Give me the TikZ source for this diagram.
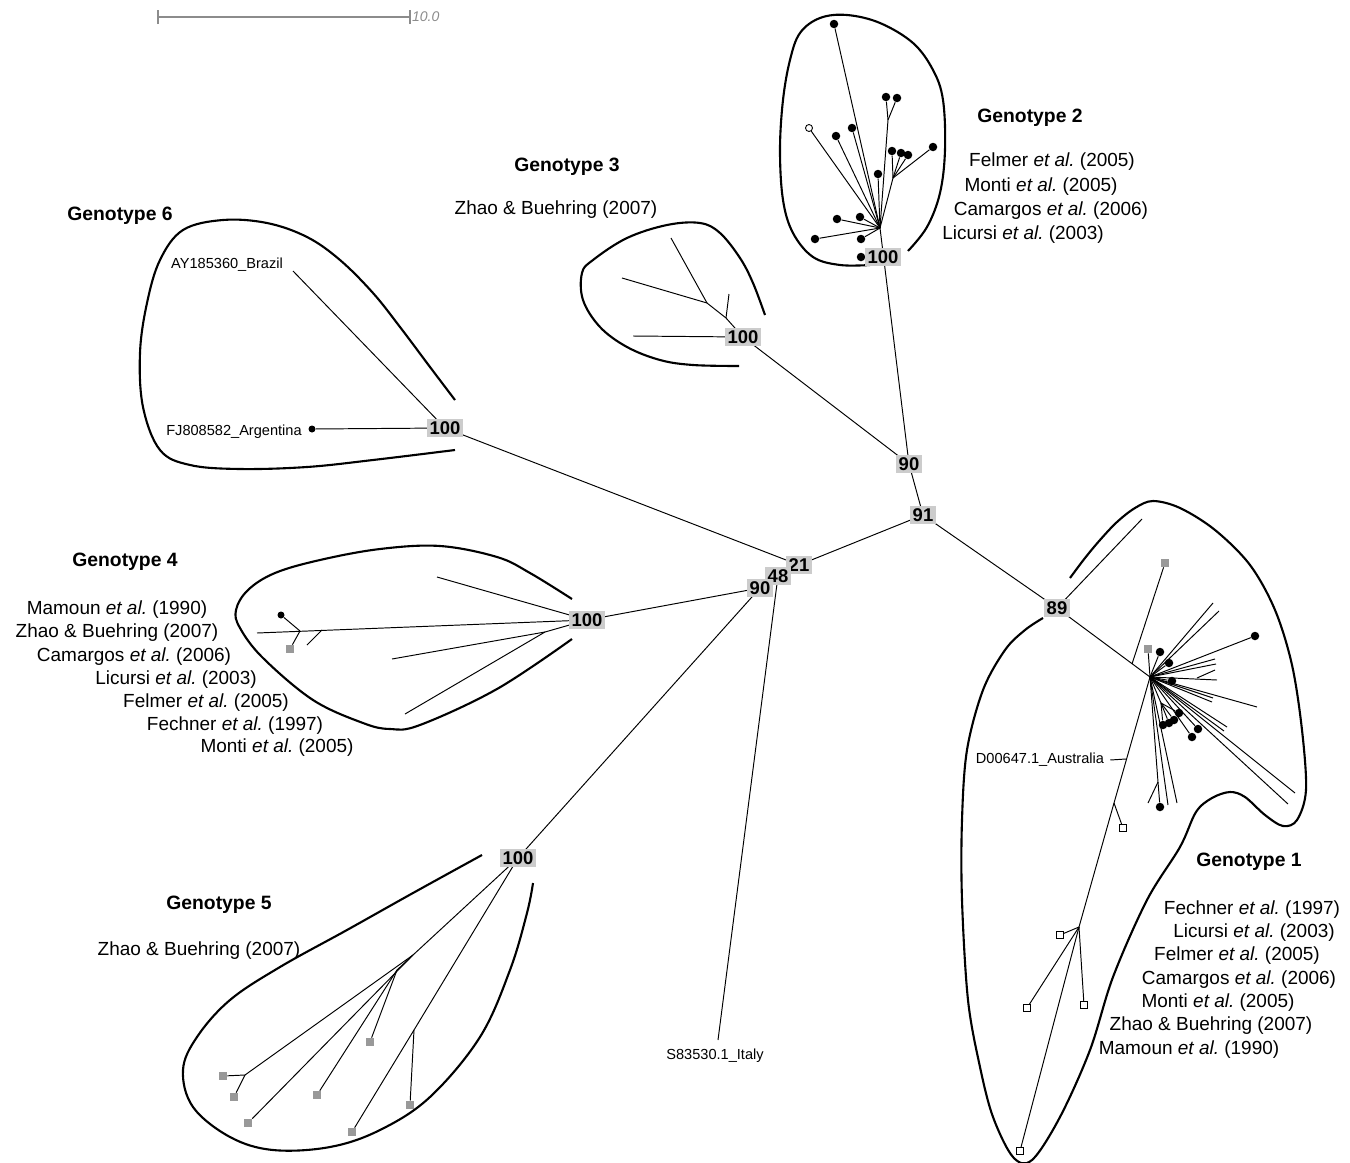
\documentclass[tikz,border=0pt]{standalone}
\usepackage{fontspec}
\setmainfont{Liberation Sans}
\frenchspacing
\begin{document}
\begin{tikzpicture}[x=0.02cm, y=-0.02cm,
  branch/.style={line width=0.55pt},
  hull/.style={line width=1.2pt},
  boot/.style={fill=black!20, inner sep=1.4pt, font=\fontsize{10.5}{12}\selectfont\bfseries},
  dot/.style={circle, fill, inner sep=0pt, minimum size=0.17cm},
  opendot/.style={circle, draw, fill=white, line width=0.5pt, inner sep=0pt, minimum size=0.14cm},
  graysq/.style={rectangle, fill=black!40, inner sep=0pt, minimum size=0.16cm},
  opensq/.style={rectangle, draw, fill=white, line width=0.5pt, inner sep=0pt, minimum size=0.14cm},
  geno/.style={font=\fontsize{11}{13}\selectfont\bfseries},
  ref/.style={font=\fontsize{10.8}{13}\selectfont},
  acc/.style={font=\fontsize{8.3}{10}\selectfont}]
\useasboundingbox (0,0) rectangle (1350,1163);

% scale bar
\coordinate (sbl) at (158,17);
\coordinate (sbr) at (410,17);
\draw[black!45, line width=0.6pt] (sbl) -- (sbr);
\draw[black!45, line width=0.6pt] ([yshift=-4]sbl) -- ([yshift=4]sbl);
\draw[black!45, line width=0.6pt] ([yshift=-4]sbr) -- ([yshift=4]sbr);
\node[anchor=west, inner sep=1pt, text=black!45, font=\fontsize{8}{10}\selectfont\itshape] (sbt) at (sbr) {10.0};

% backbone
\coordinate (c21) at (799,565);
\coordinate (c48) at (778,576);
\coordinate (c90a) at (760,588);
\coordinate (c91) at (923,515);
\coordinate (c90b) at (909,464);
\coordinate (c89) at (1057,608);
\coordinate (c100g2) at (883,257);
\coordinate (c100g3) at (743,337);
\coordinate (c100g6) at (445,428);
\coordinate (c100g4) at (587,620);
\coordinate (c100g5) at (518,858);
\coordinate (italy) at (718,1040);
\draw[branch] (c91) -- (c90b);
\draw[branch] (c91) -- (c21);
\draw[branch] (c91) -- (c89);
\draw[branch] (c21) -- (c100g6);
\draw[branch] (c21) -- (c48);
\draw[branch] (c48) -- (c90a);
\draw[branch] (c48) -- (italy);
\draw[branch] (c90a) -- (c100g4);
\draw[branch] (c90a) -- (c100g5);
\draw[branch] (c90b) -- (c100g3);
\node[acc] (itl) at (715,1056) {S83530.1\_Italy};

% genotype 2
\coordinate (g2h) at (880,228);
\coordinate (g2a) at (888,120);
\coordinate (g2b) at (893,178);
\draw[branch] (c90b) -- (g2h);
\draw[branch] (g2h) -- (g2a);
\draw[branch] (g2h) -- (g2b);
\foreach \x/\y [count=\i] in {834/24, 852/128, 836/136, 878/174, 837/219, 860/217, 815/239, 861/239}
  { \node[dot] (g2d\i) at (\x,\y) {}; \draw[branch] (g2h) -- (g2d\i); }
\foreach \x/\y [count=\i] in {886/97, 897/98}
  { \node[dot] (g2e\i) at (\x,\y) {}; \draw[branch] (g2a) -- (g2e\i); }
\foreach \x/\y [count=\i] in {892/151, 901/153, 908/155, 933/147}
  { \node[dot] (g2f\i) at (\x,\y) {}; \draw[branch] (g2b) -- (g2f\i); }
\node[opendot] (g2o) at (809,128) {};
\draw[branch] (g2h) -- (g2o);
\node[dot] (g2r) at (861,257) {};
\draw[branch] (c100g2) -- (g2r);
\draw[hull] plot[smooth, tension=0.6] coordinates {(908,251) (927,227) (940,193) (945,150) (943,100) (933,70) (913,43) (880,23) (847,15) (820,18) (800,33) (790,60) (783,100) (780,150) (783,200) (793,233) (813,257) (840,265) (870,265)};

% genotype 3
\coordinate (g3a) at (726,318);
\coordinate (g3b) at (707,303);
\draw[branch] (c100g3) -- (633,336) coordinate (g3l1);
\draw[branch] (c100g3) -- (g3a) -- (g3b);
\draw[branch] (g3a) -- (729,294) coordinate (g3l2);
\draw[branch] (g3b) -- (671,238) coordinate (g3l3);
\draw[branch] (g3b) -- (622,278) coordinate (g3l4);
\draw[hull] plot[smooth, tension=0.6] coordinates {(739,366) (693,365) (660,360) (627,347) (600,327) (583,300) (582,273) (593,260) (627,238) (667,225) (700,223) (720,233) (740,258) (753,283) (765,315)};

% genotype 6
\coordinate (g6l1) at (293,271);
\node[acc] (brazil) at (227,265) {AY185360\_Brazil};
\node[dot, minimum size=0.14cm] (g6d) at (312,429) {};
\node[acc] (argen) at (234,432) {FJ808582\_Argentina};
\draw[branch] (c100g6) -- (g6l1);
\draw[branch] (c100g6) -- (g6d);
\draw[hull] plot[smooth, tension=0.6] coordinates {(455,400) (430,367) (400,327) (373,293) (340,260) (307,237) (267,223) (223,220) (183,230) (160,260) (147,303) (140,353) (143,407) (160,450) (190,465) (240,469) (307,467) (373,460) (455,450)};

% genotype 4
\coordinate (g4a) at (300,631);
\coordinate (g4b) at (322,630);
\coordinate (g4c) at (545,632);
\draw[branch] (c100g4) -- (257,633) coordinate (g4l1);
\node[dot, minimum size=0.14cm] (g4d) at (281,615) {};
\node[graysq] (g4s) at (290,649) {};
\draw[branch] (g4a) -- (g4d);
\draw[branch] (g4a) -- (g4s);
\draw[branch] (g4b) -- (307,645) coordinate (g4l2);
\draw[branch] (c100g4) -- (437,577) coordinate (g4l3);
\draw[branch] (c100g4) -- (g4c);
\draw[branch] (g4c) -- (392,659) coordinate (g4l4);
\draw[branch] (g4c) -- (405,714) coordinate (g4l5);
\draw[hull] plot[smooth, tension=0.6] coordinates {(572,599) (530,573) (497,557) (440,546) (380,549) (320,560) (275,573) (248,590) (236,610) (240,628) (263,658) (313,700) (363,723) (390,729) (420,725) (497,689) (572,639)};

% genotype 5
\coordinate (g5a) at (413,955);
\coordinate (g5c) at (245,1075);
\coordinate (g5d) at (397,970);
\coordinate (g5e) at (414,1030);
\draw[branch] (c100g5) -- (g5a) -- (g5c);
\draw[branch] (g5a) -- (g5d);
\draw[branch] (c100g5) -- (g5e);
\foreach \x/\y/\f [count=\i] in {223/1076/g5c, 234/1097/g5c, 248/1123/g5a, 317/1095/g5d, 370/1042/g5d, 352/1132/g5e, 410/1105/g5e}
  { \node[graysq] (g5s\i) at (\x,\y) {}; \draw[branch] (\f) -- (g5s\i); }
\draw[hull] plot[smooth, tension=0.6] coordinates {(482,855) (413,893) (347,930) (280,967) (230,1000) (197,1037) (183,1070) (193,1107) (230,1137) (273,1150) (330,1147) (380,1130) (430,1097) (480,1037) (510,970) (527,913) (533,883)};

% genotype 1
\coordinate (g1h) at (1150,677);
\coordinate (g1s) at (1132,664);
\coordinate (g1a) at (1197,678);
\coordinate (g1b) at (1161,703);
\coordinate (g1d) at (1158,782);
\coordinate (g1e) at (1114,803);
\coordinate (g1t) at (1079,927);
\coordinate (ausp) at (1126,759);
\draw[branch] (c89) -- (g1h);
\draw[branch] (c89) -- (1142,519) coordinate (g1l0);
\node[graysq] (g1q1) at (1165,563) {};
\draw[branch] (g1s) -- (g1q1);
\node[graysq] (g1q2) at (1148,649) {};
\draw[branch] (g1h) -- (g1q2);
\foreach \x/\y [count=\i] in {1213/603, 1219/611, 1215/659, 1216/664, 1217/680, 1213/698, 1212/702, 1257/707, 1227/727, 1224/731, 1295/793, 1288/804, 1168/805, 1177/803}
  { \draw[branch] (g1h) -- (\x,\y) coordinate (g1l\i); }
\foreach \x/\y [count=\i] in {1160/652, 1169/663, 1255/636, 1172/681, 1198/729, 1192/737}
  { \node[dot] (g1d\i) at (\x,\y) {}; \draw[branch] (g1h) -- (g1d\i); }
\draw[branch] (g1a) -- (1215,670) coordinate (g1m1);
\draw[branch] (g1h) -- (g1b);
\foreach \x/\y [count=\i] in {1179/713, 1174/720, 1169/723, 1163/725}
  { \node[dot] (g1c\i) at (\x,\y) {}; \draw[branch] (g1b) -- (g1c\i); }
\node[dot] (g1r) at (1160,807) {};
\draw[branch] (g1h) -- (g1d) -- (g1r);
\draw[branch] (g1d) -- (1148,803) coordinate (g1m2);
\draw[branch] (g1h) -- (g1e) -- (g1t);
\node[opensq] (g1o1) at (1123,828) {};
\draw[branch] (g1e) -- (g1o1);
\foreach \x/\y [count=\i] in {1060/935, 1027/1008, 1084/1005, 1020/1151}
  { \node[opensq] (g1o\i x) at (\x,\y) {}; \draw[branch] (g1t) -- (g1o\i x); }
\node[acc] (aus) at (1040,760) {D00647.1\_Australia};
\draw[branch] (aus.east) -- (ausp);
\draw[hull] plot[smooth, tension=0.55] coordinates {(1070,578) (1085,558) (1100,540) (1117,522) (1135,508) (1153,501) (1180,508) (1215,530) (1250,565) (1275,610) (1292,665) (1302,730) (1306,790) (1297,820) (1283,826) (1265,815) (1245,797) (1230,792) (1212,798) (1196,812) (1180,847) (1147,900) (1113,977) (1090,1050) (1060,1117) (1032,1160) (1013,1157) (993,1117) (980,1067) (968,1000) (962,900) (962,820) (967,750) (983,690) (1005,650) (1025,630) (1043,618)};

% bootstrap values
\node[boot] (b21) at (c21) {21};
\node[boot] (b48) at (c48) {48};
\node[boot] (b90a) at (c90a) {90};
\node[boot] (b91) at (c91) {91};
\node[boot] (b90b) at (c90b) {90};
\node[boot] (b89) at (c89) {89};
\node[boot] (b100g2) at (c100g2) {100};
\node[boot] (b100g3) at (c100g3) {100};
\node[boot] (b100g6) at (c100g6) {100};
\node[boot] (b100g4) at (c100g4) {100};
\node[boot] (b100g5) at (c100g5) {100};

% labels
\node[geno] (t2) at (1030,118) {Genotype 2};
\node[ref] (r2a) at (1052,162) {Felmer \textit{et al.} (2005)};
\node[ref] (r2b) at (1041,187) {Monti \textit{et al.} (2005)};
\node[ref] (r2c) at (1051,211) {Camargos \textit{et al.} (2006)};
\node[ref] (r2d) at (1023,235) {Licursi \textit{et al.} (2003)};

\node[geno] (t3) at (567,167) {Genotype 3};
\node[ref] (r3a) at (556,210) {Zhao \& Buehring (2007)};

\node[geno] (t6) at (120,216) {Genotype 6};

\node[geno] (t4) at (125,562) {Genotype 4};
\node[ref] (r4a) at (117,610) {Mamoun \textit{et al.} (1990)};
\node[ref] (r4b) at (117,633) {Zhao \& Buehring (2007)};
\node[ref] (r4c) at (134,657) {Camargos \textit{et al.} (2006)};
\node[ref] (r4d) at (176,680) {Licursi \textit{et al.} (2003)};
\node[ref] (r4e) at (206,703) {Felmer \textit{et al.} (2005)};
\node[ref] (r4f) at (235,726) {Fechner \textit{et al.} (1997)};
\node[ref] (r4g) at (277,748) {Monti \textit{et al.} (2005)};

\node[geno] (t5) at (219,905) {Genotype 5};
\node[ref] (r5a) at (199,951) {Zhao \& Buehring (2007)};

\node[geno] (t1) at (1249,862) {Genotype 1};
\node[ref] (r1a) at (1252,910) {Fechner \textit{et al.} (1997)};
\node[ref] (r1b) at (1254,933) {Licursi \textit{et al.} (2003)};
\node[ref] (r1c) at (1237,956) {Felmer \textit{et al.} (2005)};
\node[ref] (r1d) at (1239,980) {Camargos \textit{et al.} (2006)};
\node[ref] (r1e) at (1218,1003) {Monti \textit{et al.} (2005)};
\node[ref] (r1f) at (1211,1026) {Zhao \& Buehring (2007)};
\node[ref] (r1g) at (1189,1050) {Mamoun \textit{et al.} (1990)};
\end{tikzpicture}
\end{document}
